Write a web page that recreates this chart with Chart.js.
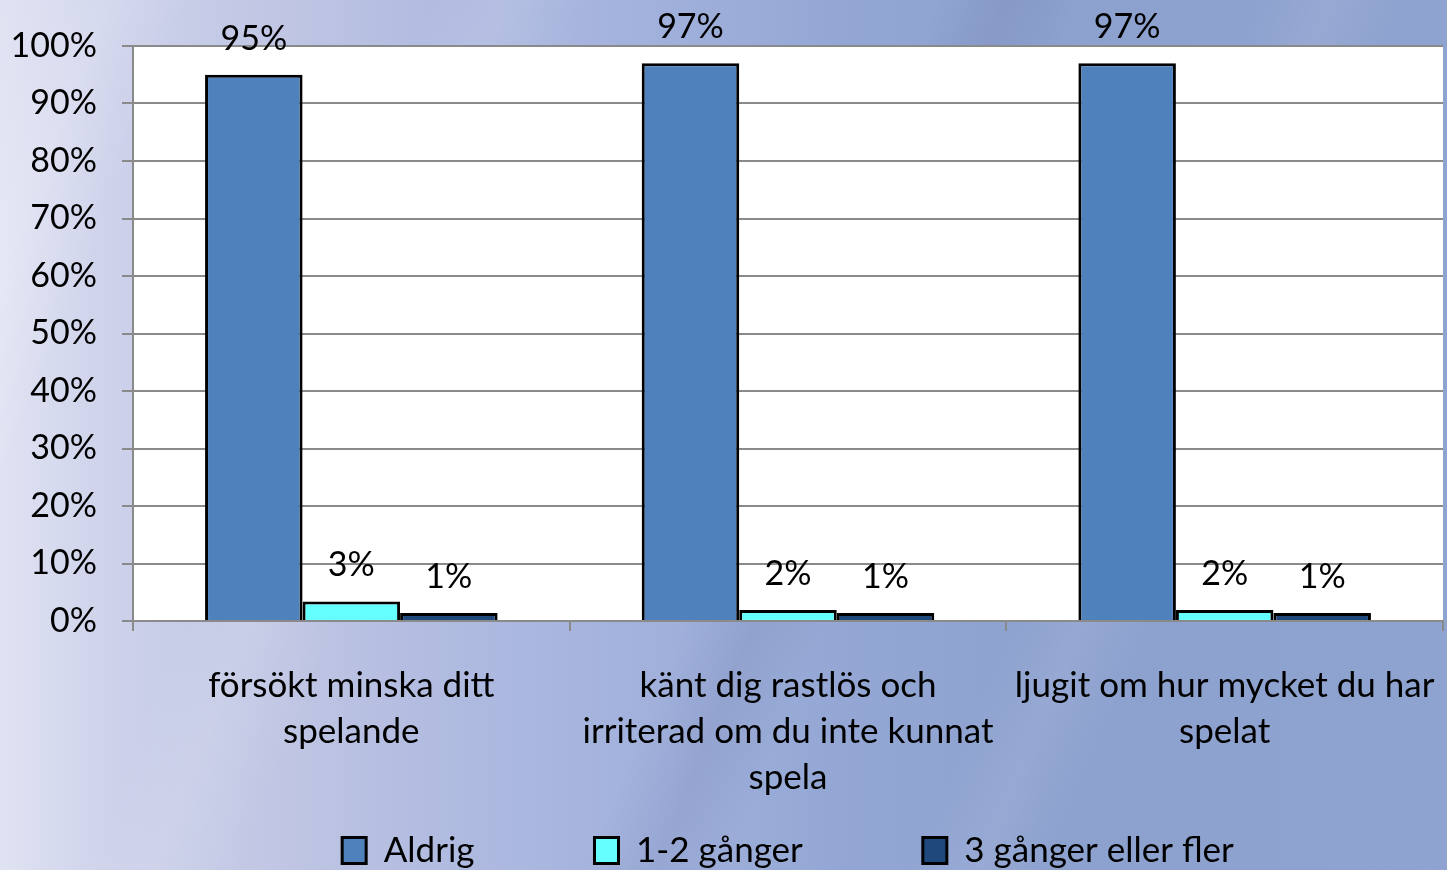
<!DOCTYPE html>
<html><head><meta charset="utf-8">
<script src="https://cdn.jsdelivr.net/npm/chart.js@4.4.0/dist/chart.umd.min.js"></script>
<style>
html,body{margin:0;padding:0;width:1447px;height:870px;overflow:hidden;}
body{
 background:
  linear-gradient(112deg, rgba(255,255,255,0) 0%, rgba(255,255,255,0.16) 6%, rgba(255,255,255,0) 11%, rgba(255,255,255,0) 24%, rgba(255,255,255,0.10) 28%, rgba(255,255,255,0) 33%, rgba(0,0,60,0) 52%, rgba(0,0,60,0.06) 56%, rgba(0,0,60,0) 60%, rgba(255,255,255,0) 70%, rgba(255,255,255,0.08) 74%, rgba(255,255,255,0) 78%),
  linear-gradient(90deg, #e0e3f2 0%, #cdd1ea 8%, #bfc5e3 20%, #afbae0 32%, #a1b1dc 45%, #94a7d4 58%, #8da1cf 72%, #8fa3d0 100%);
}
#wrap{position:relative;width:1447px;height:870px;overflow:hidden;}
canvas{display:block;}
</style></head><body><div id="wrap"><canvas id="c" width="1447" height="878"></canvas></div>
<script>
const categories = [
  ['försökt minska ditt', 'spelande'],
  ['känt dig rastlös och', 'irriterad om du inte kunnat', 'spela'],
  ['ljugit om hur mycket du har', 'spelat']
];
const seriesNames = ['Aldrig', '1-2 gånger', '3 gånger eller fler'];
const aldrig = [95, 97, 97];
const ggr12 = [3.4, 1.9, 1.9];
const ggr3 = [1.4, 1.4, 1.4];
const seriesColors = ['#4f81bd', '#66ffff', '#1f497d'];
const yMin = 0, yMax = 100, yStep = 10;

const FONT = 'Lato';
const GRID = '#8a8a8a';

const whiteArea = {
  id: 'whiteArea',
  beforeDraw(chart) {
    const a = chart.chartArea, ctx = chart.ctx;
    ctx.save();
    ctx.fillStyle = '#ffffff';
    ctx.fillRect(a.left, a.top, a.right - a.left, a.bottom - a.top);
    ctx.restore();
  }
};
const dataLabels = {
  id: 'dataLabels',
  afterDatasetsDraw(chart) {
    const ctx = chart.ctx;
    ctx.save();
    ctx.font = '34px ' + FONT;
    ctx.fillStyle = '#000';
    ctx.textAlign = 'center';
    ctx.textBaseline = 'alphabetic';
    chart.data.datasets.forEach((ds, i) => {
      chart.getDatasetMeta(i).data.forEach((bar, j) => {
        ctx.fillText(Math.round(ds.data[j]) + '%', bar.x, bar.y - 25);
      });
    });
    ctx.restore();
  }
};

function draw() {
  const ctx = document.getElementById('c').getContext('2d');
  const values = [aldrig, ggr12, ggr3];
  new Chart(ctx, {
    type: 'bar',
    data: {
      labels: categories,
      datasets: seriesNames.map((n, i) => ({
        label: n,
        data: values[i],
        backgroundColor: seriesColors[i],
        borderColor: '#000',
        borderWidth: 3,
        borderSkipped: 'start',
        categoryPercentage: 0.67,
        barPercentage: 1.0
      }))
    },
    options: {
      responsive: false,
      animation: false,
      devicePixelRatio: 1,
      layout: { padding: { top: 46, right: 4, left: 0, bottom: 0 } },
      plugins: {
        tooltip: { enabled: false },
        legend: {
          position: 'bottom',
          fullSize: false,
          labels: {
            font: { family: FONT, size: 35 },
            color: '#000',
            boxWidth: 24,
            boxHeight: 26,
            padding: 120
          }
        }
      },
      scales: {
        x: {
          afterFit(s) { s.height = 92; s.paddingLeft = 0; s.paddingRight = 0; },
          grid: { offset: true, drawOnChartArea: false, drawTicks: true, tickLength: 10, color: GRID, lineWidth: 2 },
          border: { color: GRID, width: 2 },
          ticks: { color: '#000', font: { family: FONT, size: 35, lineHeight: 1.314 }, mirror: true, padding: -88, maxRotation: 0, autoSkip: false }
        },
        y: {
          min: yMin, max: yMax,
          afterFit(s) { s.width = 133; },
          grid: { color: GRID, lineWidth: 2, tickLength: 11 },
          border: { color: GRID, width: 2 },
          ticks: { stepSize: yStep, color: '#000', font: { family: FONT, size: 34 }, padding: 25,
                   callback: v => v + '%' }
        }
      }
    },
    plugins: [whiteArea, dataLabels]
  });
}
if (document.fonts && document.fonts.load) {
  Promise.all([document.fonts.load('30px Lato')]).then(draw, draw);
} else draw();
</script>
</body></html>
